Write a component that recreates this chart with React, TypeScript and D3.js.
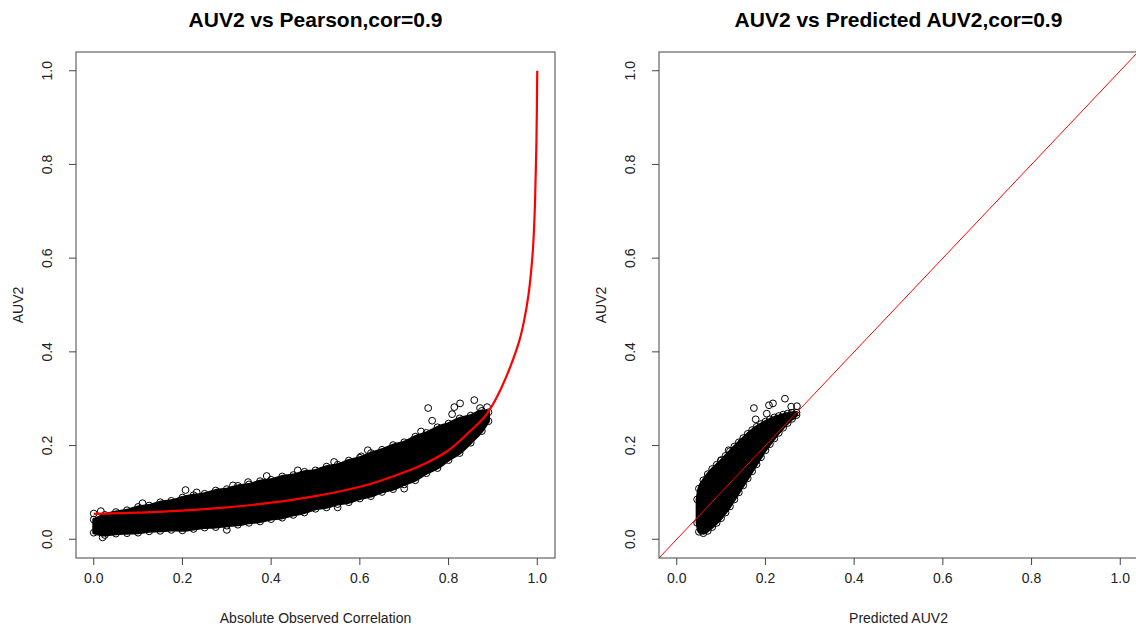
import React from "react";
import * as d3 from "d3";

// axis ticks shared by both panels
const tickValues = [0, 0.2, 0.4, 0.6, 0.8, 1.0];

// left panel: fitted red curve
const fitX = [0, 0.1, 0.2, 0.3, 0.4, 0.5, 0.6, 0.65, 0.7, 0.75, 0.8, 0.85, 0.88, 0.9, 0.92, 0.94, 0.96, 0.97, 0.98, 0.986, 0.991, 0.995, 0.998, 1.0];
const fitY = [0.054, 0.057, 0.061, 0.068, 0.078, 0.092, 0.112, 0.126, 0.143, 0.163, 0.19, 0.232, 0.26, 0.288, 0.325, 0.37, 0.425, 0.465, 0.52, 0.57, 0.63, 0.72, 0.84, 1.0];

// left panel: dense point cloud, read as lower / upper edge
const leftBandX = [0, 0.025, 0.05, 0.075, 0.1, 0.125, 0.15, 0.175, 0.2, 0.225, 0.25, 0.275, 0.3, 0.325, 0.35, 0.375, 0.4, 0.425, 0.45, 0.475, 0.5, 0.525, 0.55, 0.575, 0.6, 0.625, 0.65, 0.675, 0.7, 0.725, 0.75, 0.775, 0.8, 0.825, 0.85, 0.875, 0.89];
const leftBandLow = [0.014, 0.009, 0.012, 0.013, 0.014, 0.017, 0.018, 0.02, 0.019, 0.022, 0.025, 0.026, 0.029, 0.031, 0.035, 0.038, 0.043, 0.046, 0.052, 0.057, 0.065, 0.068, 0.075, 0.079, 0.087, 0.092, 0.101, 0.107, 0.117, 0.126, 0.141, 0.152, 0.169, 0.184, 0.206, 0.231, 0.252];
const leftBandHigh = [0.042, 0.052, 0.058, 0.062, 0.069, 0.072, 0.079, 0.082, 0.089, 0.094, 0.097, 0.104, 0.107, 0.114, 0.117, 0.124, 0.127, 0.134, 0.137, 0.144, 0.147, 0.155, 0.159, 0.168, 0.174, 0.184, 0.191, 0.201, 0.207, 0.219, 0.227, 0.239, 0.247, 0.258, 0.264, 0.274, 0.271];
const leftOutX = [0, 0.016, 0.11, 0.207, 0.232, 0.314, 0.348, 0.39, 0.46, 0.542, 0.603, 0.618, 0.738, 0.754, 0.763, 0.808, 0.813, 0.826, 0.858, 0.871, 0.887, 0.02, 0.3, 0.55, 0.7];
const leftOutY = [0.055, 0.06, 0.077, 0.105, 0.1, 0.115, 0.122, 0.135, 0.147, 0.165, 0.177, 0.19, 0.23, 0.28, 0.253, 0.267, 0.282, 0.29, 0.297, 0.28, 0.282, 0.004, 0.02, 0.068, 0.108];

// right panel: point cloud edges, outliers and identity line
const rightBandX = [0.046, 0.05, 0.06, 0.07, 0.08, 0.09, 0.1, 0.11, 0.12, 0.13, 0.14, 0.15, 0.16, 0.17, 0.18, 0.19, 0.2, 0.21, 0.22, 0.23, 0.24, 0.25, 0.26, 0.27];
const rightBandLow = [0.035, 0.016, 0.013, 0.018, 0.026, 0.035, 0.045, 0.057, 0.07, 0.085, 0.1, 0.115, 0.13, 0.145, 0.16, 0.175, 0.19, 0.203, 0.215, 0.227, 0.238, 0.248, 0.257, 0.265];
const rightBandHigh = [0.085, 0.108, 0.126, 0.139, 0.15, 0.159, 0.168, 0.178, 0.188, 0.198, 0.207, 0.216, 0.225, 0.233, 0.24, 0.246, 0.251, 0.256, 0.26, 0.263, 0.266, 0.268, 0.27, 0.27];
const rightOutX = [0.174, 0.203, 0.208, 0.217, 0.244, 0.258, 0.271, 0.262, 0.178, 0.1, 0.117, 0.146, 0.056];
const rightOutY = [0.28, 0.268, 0.286, 0.29, 0.3, 0.283, 0.284, 0.263, 0.256, 0.169, 0.19, 0.207, 0.105];
const identityLine = [0, 1];

const W = 1136, H = 629;
const top = 52, bottom = 558;

const App = () => {
  const ref = React.useRef(null);

  React.useEffect(() => {
    document.body.style.margin = "0";
    const root = d3.select(ref.current);
    root.selectAll("*").remove();
    const svg = root
      .append("svg")
      .attr("width", W)
      .attr("height", H)
      .style("display", "block")
      .style("font-family", "'Liberation Sans', Arial, sans-serif");

    const panel = (id, left, right, title, xTitle, bandX, low, high, outX, outY, drawLine) => {
      const x = d3.scaleLinear().domain([-0.04, 1.04]).range([left, right]);
      const y = d3.scaleLinear().domain([-0.04, 1.04]).range([bottom, top]);
      const g = svg.append("g");

      svg
        .append("clipPath")
        .attr("id", id)
        .append("rect")
        .attr("x", left)
        .attr("y", top)
        .attr("width", right - left)
        .attr("height", bottom - top);
      const plot = g.append("g").attr("clip-path", `url(#${id})`);

      const area = d3
        .area()
        .x((d) => x(bandX[d]))
        .y0((d) => y(low[d]))
        .y1((d) => y(high[d]))
        .curve(d3.curveMonotoneX);
      plot
        .append("path")
        .attr("d", area(d3.range(bandX.length)))
        .attr("fill", "black")
        .attr("stroke", "black")
        .attr("stroke-width", 3)
        .attr("stroke-linejoin", "round");

      const pts = [];
      bandX.forEach((v, i) => {
        pts.push([v, low[i]]);
        pts.push([v, high[i]]);
      });
      outX.forEach((v, i) => pts.push([v, outY[i]]));
      plot
        .selectAll("circle")
        .data(pts)
        .join("circle")
        .attr("cx", (d) => x(d[0]))
        .attr("cy", (d) => y(d[1]))
        .attr("r", 3.4)
        .attr("fill", "none")
        .attr("stroke", "black")
        .attr("stroke-width", 1);

      drawLine(plot, x, y);

      // box
      g.append("rect")
        .attr("x", left)
        .attr("y", top)
        .attr("width", right - left)
        .attr("height", bottom - top)
        .attr("fill", "none")
        .attr("stroke", "#444")
        .attr("stroke-width", 1);

      // axes, R style: outward ticks, rotated y labels
      tickValues.forEach((t) => {
        g.append("line")
          .attr("x1", x(t)).attr("x2", x(t))
          .attr("y1", bottom).attr("y2", bottom + 7)
          .attr("stroke", "#444");
        g.append("text")
          .attr("x", x(t))
          .attr("y", bottom + 25)
          .attr("text-anchor", "middle")
          .attr("font-size", 14)
          .attr("fill", "#222")
          .text(t.toFixed(1));
        g.append("line")
          .attr("x1", left - 7).attr("x2", left)
          .attr("y1", y(t)).attr("y2", y(t))
          .attr("stroke", "#444");
        g.append("text")
          .attr("transform", `translate(${left - 24},${y(t)}) rotate(-90)`)
          .attr("text-anchor", "middle")
          .attr("font-size", 14)
          .attr("fill", "#222")
          .text(t.toFixed(1));
      });

      g.append("text")
        .attr("x", (left + right) / 2)
        .attr("y", bottom + 65)
        .attr("text-anchor", "middle")
        .attr("font-size", 14)
        .attr("fill", "#222")
        .text(xTitle);
      g.append("text")
        .attr("transform", `translate(${left - 53},${(top + bottom) / 2}) rotate(-90)`)
        .attr("text-anchor", "middle")
        .attr("font-size", 14)
        .attr("fill", "#222")
        .text("AUV2");
      g.append("text")
        .attr("x", (left + right) / 2)
        .attr("y", 27)
        .attr("text-anchor", "middle")
        .attr("font-size", 21)
        .attr("font-weight", "bold")
        .text(title);
    };

    panel("clipL", 76, 555, "AUV2 vs Pearson,cor=0.9", "Absolute Observed Correlation",
      leftBandX, leftBandLow, leftBandHigh, leftOutX, leftOutY,
      (plot, x, y) => {
        const line = d3.line().x((d) => x(d[0])).y((d) => y(d[1])).curve(d3.curveCatmullRom.alpha(0.5));
        plot.append("path")
          .attr("d", line(fitX.map((v, i) => [v, fitY[i]])))
          .attr("fill", "none")
          .attr("stroke", "#ff0000")
          .attr("stroke-width", 2.2);
      });

    panel("clipR", 659, 1138, "AUV2 vs Predicted AUV2,cor=0.9", "Predicted AUV2",
      rightBandX, rightBandLow, rightBandHigh, rightOutX, rightOutY,
      (plot, x, y) => {
        // abline(a, b) across the whole plot region
        const [a, b] = identityLine;
        const [d0, d1] = x.domain();
        plot.append("line")
          .attr("x1", x(d0)).attr("y1", y(a + b * d0))
          .attr("x2", x(d1)).attr("y2", y(a + b * d1))
          .attr("stroke", "#ff0000")
          .attr("stroke-width", 1);
      });

    return () => {
      root.selectAll("*").remove();
    };
  }, []);

  return <div ref={ref}></div>;
};

export default App;
